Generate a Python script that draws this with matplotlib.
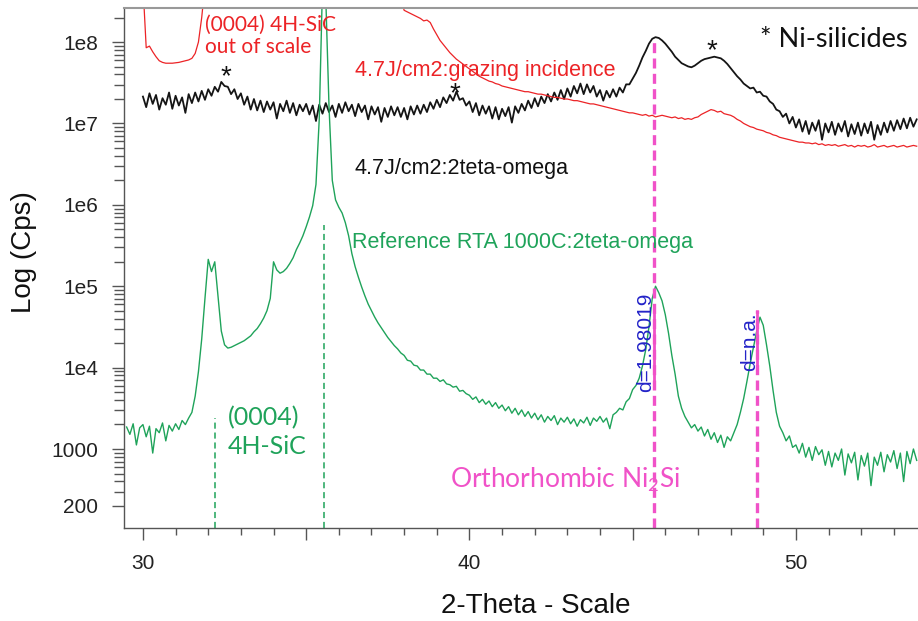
import numpy as np
import matplotlib
matplotlib.use("Agg")
import matplotlib.pyplot as plt
from matplotlib.ticker import (FixedLocator, FixedFormatter, LogLocator,
                               MultipleLocator, FuncFormatter, NullFormatter)

plt.rcParams["font.family"] = ["Liberation Sans", "DejaVu Sans"]

# XRD scans, 0.1 deg step, intensities stored as log10(cps)
green_start, black_start, red_start, scan_end, scan_step = 29.5, 30.0, 30.0, 53.7, 0.1

# Reference RTA 1000C : 2teta-omega
green_log_cps = [
    3.27, 3.18, 3.31, 3.05, 3.26,
    3.30, 3.15, 3.28, 2.95, 3.25, 3.20, 3.32, 3.10, 3.29, 3.22,
    3.31, 3.24, 3.35, 3.30, 3.38, 3.45, 3.65, 3.95, 4.35, 4.85,
    5.33, 5.18, 5.30, 4.88, 4.45, 4.28, 4.24, 4.25, 4.27, 4.29,
    4.31, 4.33, 4.36, 4.39, 4.44, 4.48, 4.54, 4.61, 4.70, 4.85,
    5.30, 5.20, 5.16, 5.18, 5.22, 5.28, 5.35, 5.45, 5.53, 5.62,
    5.73, 5.85, 5.99, 6.25, 7.05, 8.70, 8.55, 7.20, 6.30, 6.06,
    5.97, 5.90, 5.78, 5.62, 5.40, 5.24, 5.11, 4.99, 4.88, 4.78,
    4.70, 4.62, 4.55, 4.49, 4.43, 4.37, 4.32, 4.27, 4.23, 4.18,
    4.15, 4.09, 4.08, 4.03, 4.02, 3.97, 3.97, 3.92, 3.92, 3.87,
    3.87, 3.83, 3.85, 3.80, 3.79, 3.76, 3.77, 3.71, 3.72, 3.68,
    3.66, 3.61, 3.64, 3.57, 3.61, 3.55, 3.59, 3.52, 3.57, 3.50,
    3.54, 3.47, 3.52, 3.44, 3.50, 3.42, 3.48, 3.40, 3.46, 3.38,
    3.44, 3.36, 3.42, 3.33, 3.40, 3.35, 3.41, 3.30, 3.38, 3.33,
    3.39, 3.31, 3.37, 3.28, 3.36, 3.32, 3.39, 3.29, 3.38, 3.34,
    3.40, 3.33, 3.38, 3.25, 3.42, 3.45, 3.50, 3.48, 3.58, 3.62,
    3.73, 3.78, 3.87, 4.02, 4.22, 4.50, 4.85, 5.00, 4.92, 4.82,
    4.65, 4.42, 4.15, 3.92, 3.65, 3.50, 3.40, 3.33, 3.26, 3.30,
    3.22, 3.27, 3.16, 3.24, 3.12, 3.20, 3.08, 3.17, 3.02, 3.15,
    3.10, 3.20, 3.30, 3.45, 3.62, 3.83, 4.05, 4.25, 4.45, 4.62,
    4.52, 4.28, 4.02, 3.72, 3.45, 3.28, 3.20, 3.10, 3.16, 3.02,
    3.05, 2.95, 3.07, 2.90, 3.02, 2.86, 3.03, 2.93, 2.99, 2.80,
    2.97, 2.78, 2.95, 2.86, 3.00, 2.68, 2.94, 2.83, 2.96, 2.62,
    2.92, 2.79, 2.95, 2.55, 2.90, 2.80, 2.96, 2.72, 2.93, 2.84,
    2.98, 2.76, 2.95, 2.60, 2.97, 2.82, 3.00, 2.86,
]

# 4.7J/cm2 : 2teta-omega
black_log_cps = [
    7.33, 7.20, 7.37, 7.24, 7.35, 7.17, 7.31, 7.23, 7.38, 7.18,
    7.34, 7.22, 7.32, 7.13, 7.36, 7.25, 7.38, 7.27, 7.40, 7.29,
    7.42, 7.34, 7.45, 7.39, 7.51, 7.46, 7.45, 7.36, 7.42, 7.30,
    7.37, 7.23, 7.33, 7.17, 7.30, 7.16, 7.28, 7.14, 7.27, 7.17,
    7.26, 7.06, 7.24, 7.15, 7.28, 7.13, 7.25, 7.10, 7.23, 7.15,
    7.24, 7.11, 7.22, 7.03, 7.23, 7.12, 7.25, 7.14, 7.22, 7.08,
    7.24, 7.13, 7.26, 7.15, 7.23, 7.09, 7.24, 7.14, 7.22, 7.05,
    7.21, 7.11, 7.20, 7.02, 7.19, 7.08, 7.21, 7.10, 7.20, 7.08,
    7.19, 7.05, 7.21, 7.11, 7.22, 7.12, 7.23, 7.14, 7.26, 7.18,
    7.29, 7.20, 7.32, 7.25, 7.35, 7.28, 7.39, 7.29, 7.31, 7.22,
    7.27, 7.14, 7.25, 7.10, 7.22, 7.12, 7.21, 7.06, 7.20, 7.05,
    7.18, 7.09, 7.20, 7.01, 7.21, 7.13, 7.24, 7.16, 7.28, 7.19,
    7.31, 7.21, 7.33, 7.25, 7.36, 7.27, 7.38, 7.29, 7.41, 7.30,
    7.43, 7.33, 7.46, 7.37, 7.49, 7.36, 7.48, 7.38, 7.46, 7.33,
    7.41, 7.28, 7.40, 7.32, 7.42, 7.33, 7.44, 7.38, 7.48, 7.48,
    7.55, 7.62, 7.71, 7.81, 7.89, 7.98, 8.04, 8.06, 8.05, 8.02,
    7.98, 7.93, 7.88, 7.82, 7.78, 7.74, 7.72, 7.70, 7.69, 7.71,
    7.74, 7.77, 7.79, 7.80, 7.81, 7.82, 7.81, 7.80, 7.77, 7.73,
    7.68, 7.63, 7.58, 7.54, 7.49, 7.46, 7.43, 7.44, 7.38, 7.39,
    7.34, 7.33, 7.27, 7.24, 7.17, 7.15, 7.08, 7.12, 7.00, 7.08,
    6.95, 7.05, 6.90, 7.03, 6.87, 7.01, 6.91, 7.04, 6.80, 7.00,
    6.89, 7.02, 6.86, 7.00, 6.90, 7.03, 6.84, 6.99, 6.87, 7.01,
    6.85, 7.00, 6.88, 7.02, 6.80, 6.98, 6.86, 7.01, 6.89, 7.03,
    6.91, 7.04, 6.93, 7.06, 6.94, 7.07, 6.96, 7.05,
]

# 4.7J/cm2 : grazing incidence (4H-SiC peak region is out of scale)
red_log_cps = [
    8.70, 7.93, 7.95, 7.88, 7.82, 7.77, 7.75, 7.74, 7.74, 7.74,
    7.745, 7.75, 7.76, 7.77, 7.78, 7.80, 7.86, 8.00, 8.30, 8.70,
    8.80, 8.80, 8.80, 8.80, 8.80, 8.80, 8.80, 8.80, 8.80, 8.80,
    8.80, 8.80, 8.80, 8.80, 8.80, 8.80, 8.80, 8.80, 8.80, 8.80,
    8.80, 8.80, 8.80, 8.80, 8.80, 8.80, 8.80, 8.80, 8.80, 8.80,
    8.80, 8.80, 8.80, 8.80, 8.80, 8.80, 8.80, 8.80, 8.80, 8.80,
    8.80, 8.80, 8.80, 8.80, 8.80, 8.80, 8.80, 8.80, 8.80, 8.80,
    8.80, 8.80, 8.80, 8.80, 8.80, 8.80, 8.80, 8.80, 8.80, 8.55,
    8.39, 8.37, 8.35, 8.33, 8.31, 8.29, 8.26, 8.27, 8.24, 8.16,
    8.09, 8.02, 7.97, 7.92, 7.87, 7.83, 7.79, 7.76, 7.73, 7.70,
    7.67, 7.64, 7.61, 7.58, 7.56, 7.54, 7.52, 7.51, 7.49, 7.48,
    7.46, 7.45, 7.44, 7.43, 7.42, 7.41, 7.40, 7.39, 7.39, 7.38,
    7.37, 7.36, 7.36, 7.35, 7.34, 7.33, 7.32, 7.32, 7.31, 7.30,
    7.30, 7.29, 7.28, 7.28, 7.27, 7.26, 7.25, 7.24, 7.24, 7.23,
    7.22, 7.21, 7.20, 7.19, 7.18, 7.17, 7.16, 7.15, 7.14, 7.13,
    7.13, 7.12, 7.11, 7.10, 7.11, 7.09, 7.10, 7.08, 7.09, 7.10,
    7.09, 7.08, 7.07, 7.08, 7.06, 7.07, 7.05, 7.06, 7.05, 7.07,
    7.08, 7.11, 7.13, 7.15, 7.17, 7.16, 7.14, 7.15, 7.12, 7.11,
    7.10, 7.08, 7.05, 7.03, 7.00, 6.98, 6.96, 6.95, 6.93, 6.92,
    6.91, 6.89, 6.88, 6.86, 6.85, 6.83, 6.82, 6.81, 6.80, 6.79,
    6.78, 6.77, 6.77, 6.76, 6.76, 6.75, 6.76, 6.74, 6.75, 6.73,
    6.74, 6.73, 6.74, 6.72, 6.73, 6.74, 6.72, 6.73, 6.71, 6.73,
    6.72, 6.73, 6.71, 6.72, 6.74, 6.71, 6.72, 6.73, 6.71, 6.72,
    6.73, 6.71, 6.72, 6.73, 6.71, 6.72, 6.73, 6.72,
]

# reference peak markers
sic_peaks = [32.2, 35.55]
sic_marker_tops = [2.4e3, 5.6e5]
ni2si_peaks = [45.65, 48.81]
ni2si_marker_tops = [1.1e8, 5.1e4]
ni2si_stick_bottoms = [5.4e3, 9.3e3]
ni2si_stick_tops = [5.5e4, 5.1e4]
ni2si_d_labels = ["d=1.98019", "d=n.a."]

y_ticks = [200, 1e3, 1e4, 1e5, 1e6, 1e7, 1e8]
y_tick_labels = ["200", "1000", "1e4", "1e5", "1e6", "1e7", "1e8"]

GREEN = "#1fa35a"
RED = "#ec2326"
MAGENTA = "#f052c8"
BLUE = "#2323c8"


def scan_axis(start, n):
    return np.round(start + scan_step * np.arange(n), 2)


tt_green = scan_axis(green_start, len(green_log_cps))
tt_black = scan_axis(black_start, len(black_log_cps))
tt_red = scan_axis(red_start, len(red_log_cps))

fig = plt.figure(figsize=(9.18, 6.21), dpi=100)
ax = fig.add_axes([124 / 918, 93 / 621, 1 - 124 / 918, 520 / 621])

ax.plot(tt_black, 10 ** np.array(black_log_cps), color="#151515", lw=1.3)
ax.plot(tt_red, 10 ** np.array(red_log_cps), color=RED, lw=0.9)
ax.plot(tt_green, 10 ** np.array(green_log_cps), color=GREEN, lw=1.0)

y_bottom, y_top = 107, 2.62e8
ax.set_yscale("log")
ax.set_xlim(29.42, 53.74)
ax.set_ylim(y_bottom, y_top)

# reference lines
ax.vlines(sic_peaks, y_bottom, sic_marker_tops, colors=GREEN, lw=1.1,
          linestyles=(0, (4, 2.5)))
ax.vlines(ni2si_peaks, y_bottom, ni2si_marker_tops, colors=MAGENTA, lw=2.4,
          linestyles=(0, (3, 1.6)))
ax.vlines(ni2si_peaks, ni2si_stick_bottoms, ni2si_stick_tops, colors=MAGENTA, lw=2.0)

for xp, lab in zip([45.40, 48.59], ni2si_d_labels):
    ax.text(xp, 2.07e4, lab, rotation=90, ha="center", va="center",
            fontsize=15, color=BLUE)

# annotations
calibri_like = ["Lato", "DejaVu Sans"]
ax.text(31.90, 1.19e8, "(0004) 4H-SiC\nout of scale", color=RED, fontsize=15,
        family=calibri_like, ha="left", va="center", linespacing=1.1)
ax.text(36.49, 4.53e7, "4.7J/cm2:grazing incidence", color=RED, fontsize=15.5,
        ha="left", va="center")
ax.text(36.49, 2.83e6, "4.7J/cm2:2teta-omega", color="#111111", fontsize=15.5,
        ha="left", va="center")
ax.text(36.40, 3.49e5, "Reference RTA 1000C:2teta-omega", color=GREEN,
        fontsize=15.5, ha="left", va="center")
ax.text(48.90, 1.06e8, "* Ni-silicides", color="#111111", fontsize=19.5,
        family=calibri_like, ha="left", va="center")
for xp, yp in [(32.54, 3.05e7), (39.56, 1.88e7), (47.43, 6.35e7)]:
    ax.text(xp, yp, "*", fontsize=20, color="#111111", ha="center", va="baseline")
ax.text(32.60, 1.62e3, "(0004)\n4H-SiC", color=GREEN, fontsize=18,
        family=calibri_like, ha="left", va="center", linespacing=1.3)
ax.text(39.40, 416, "Orthorhombic Ni$\\mathregular{_2}$Si", color=MAGENTA,
        fontsize=19, family=calibri_like, ha="left", va="center")

# axes styling
ax.yaxis.set_major_locator(FixedLocator(y_ticks))
ax.yaxis.set_major_formatter(FixedFormatter(y_tick_labels))
ax.yaxis.set_minor_locator(LogLocator(base=10, subs=np.arange(2, 10), numticks=20))
ax.yaxis.set_minor_formatter(NullFormatter())
ax.xaxis.set_major_locator(MultipleLocator(5))
ax.xaxis.set_minor_locator(MultipleLocator(1))
ax.xaxis.set_major_formatter(FuncFormatter(lambda v, p: f"{v:.0f}" if round(v) % 10 == 0 else ""))

ax.tick_params(which="both", direction="out", colors="#555555", labelcolor="#222222",
               labelsize=15, pad=10, width=1.0)
ax.tick_params(which="major", length=8.5)
ax.tick_params(axis="x", which="minor", length=5)
ax.tick_params(axis="y", which="minor", length=7)

for side in ["left", "bottom"]:
    ax.spines[side].set_color("#555555")
    ax.spines[side].set_linewidth(1.0)
ax.spines["top"].set_color("#999999")
ax.spines["top"].set_linewidth(1.5)
ax.spines["right"].set_visible(False)

ax.set_xlabel("2-Theta - Scale", fontsize=20, color="#111111")
ax.set_ylabel("Log (Cps)", fontsize=20, color="#111111")
ax.xaxis.set_label_coords(0.519, -0.125)
ax.yaxis.set_label_coords(-0.11, 0.53)

fig.savefig("out.png", dpi=100)
